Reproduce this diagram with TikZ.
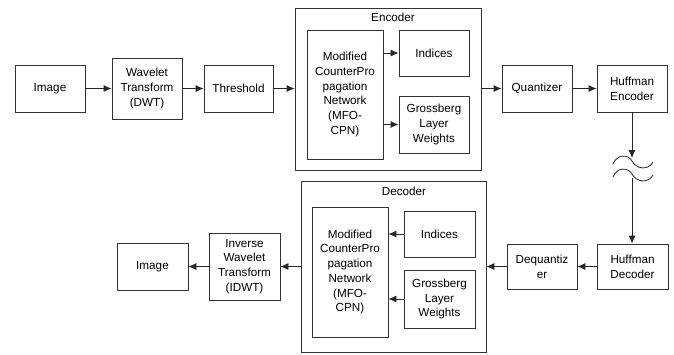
\documentclass[tikz,border=0pt]{standalone}
\usepackage{fontspec}
\setmainfont{Liberation Sans}
\usetikzlibrary{arrows.meta}
\tikzset{
    blk/.style={draw=black!80, line width=0.8pt, fill=white, align=center, inner sep=0pt,
        font=\fontsize{11.7}{14.7}\selectfont},
    ttl/.style={inner sep=0pt, font=\fontsize{11.7}{14.7}\selectfont},
    lnk/.style={->, draw=black!85, line width=0.8pt}
}
\begin{document}
\begin{tikzpicture}[x=1pt, y=-1pt, >={Latex[length=8pt,width=7pt]}]
    \useasboundingbox (0,0) rectangle (674,354);

    % Compression chain
    \node[blk, minimum width=70, minimum height=47] (img1) at (50,88.5) {Image};
    \node[blk, minimum width=70, minimum height=61] (dwt) at (147,88.5) {Wavelet\\Transform\\(DWT)};
    \node[blk, minimum width=69, minimum height=47] (thr) at (238.5,88.5) {Threshold};
    \node[blk, minimum width=186, minimum height=162] (enc) at (388,89) {};
    \node[ttl] (enct) at (393,17) {Encoder};
    \node[blk, minimum width=76, minimum height=129] (mfo1) at (345,94.5)
        {Modified\\CounterPro\\pagation\\Network\\(MFO-\\CPN)};
    \node[blk, minimum width=70, minimum height=46] (idx1) at (434,53) {Indices};
    \node[blk, minimum width=70, minimum height=57] (gw1) at (434,124.5) {Grossberg\\Layer\\Weights};
    \node[blk, minimum width=70, minimum height=47] (quant) at (537,88.5) {Quantizer};
    \node[blk, minimum width=70, minimum height=47] (henc) at (632,88.5) {Huffman\\Encoder};

    % Decompression chain
    \node[blk, minimum width=71, minimum height=45] (hdec) at (632.5,266.5) {Huffman\\Decoder};
    \node[blk, minimum width=70, minimum height=45] (deq) at (542,266.5) {Dequantiz\\er};
    \node[blk, minimum width=185, minimum height=171] (dec) at (393.5,266.5) {};
    \node[ttl] (dect) at (404,191) {Decoder};
    \node[blk, minimum width=76, minimum height=130] (mfo2) at (350,272)
        {Modified\\CounterPro\\pagation\\Network\\(MFO-\\CPN)};
    \node[blk, minimum width=71, minimum height=46] (idx2) at (439.5,234) {Indices};
    \node[blk, minimum width=71, minimum height=58] (gw2) at (439.5,299) {Grossberg\\Layer\\Weights};
    \node[blk, minimum width=71, minimum height=67] (idwt) at (244.5,266.5) {Inverse\\Wavelet\\Transform\\(IDWT)};
    \node[blk, minimum width=71, minimum height=47] (img2) at (152.5,266.5) {Image};

    % Links, top row
    \draw[lnk] (img1) -- (dwt);
    \draw[lnk] (dwt) -- (thr);
    \draw[lnk] (thr.east) -- (thr.east -| enc.west);
    \draw[lnk] (mfo1.east |- idx1) -- (idx1.west);
    \draw[lnk] (mfo1.east |- gw1) -- (gw1.west);
    \draw[lnk] (enc.east |- quant) -- (quant.west);
    \draw[lnk] (quant) -- (henc);

    % Channel with break
    \coordinate (brka) at (632,158);
    \coordinate (brkb) at (632,178);
    \draw[lnk] (henc.south -| brka) -- (brka);
    \draw[draw=black!85, line width=0.8pt] (613,164) .. controls (617,154) and (628,154) .. (632,161)
        .. controls (636,169) and (648,171) .. (653,162);
    \draw[draw=black!85, line width=0.8pt] (613,177) .. controls (617,167) and (628,167) .. (632,174)
        .. controls (636,182) and (648,184) .. (653,175);
    \draw[lnk] (brkb) -- (brkb |- hdec.north);

    % Links, bottom row
    \draw[lnk] (hdec) -- (deq);
    \draw[lnk] (deq.west) -- (deq.west -| dec.east);
    \draw[lnk] (idx2.west) -- (idx2.west -| mfo2.east);
    \draw[lnk] (gw2.west) -- (gw2.west -| mfo2.east);
    \draw[lnk] (dec) -- (idwt);
    \draw[lnk] (idwt) -- (img2);
\end{tikzpicture}
\end{document}
